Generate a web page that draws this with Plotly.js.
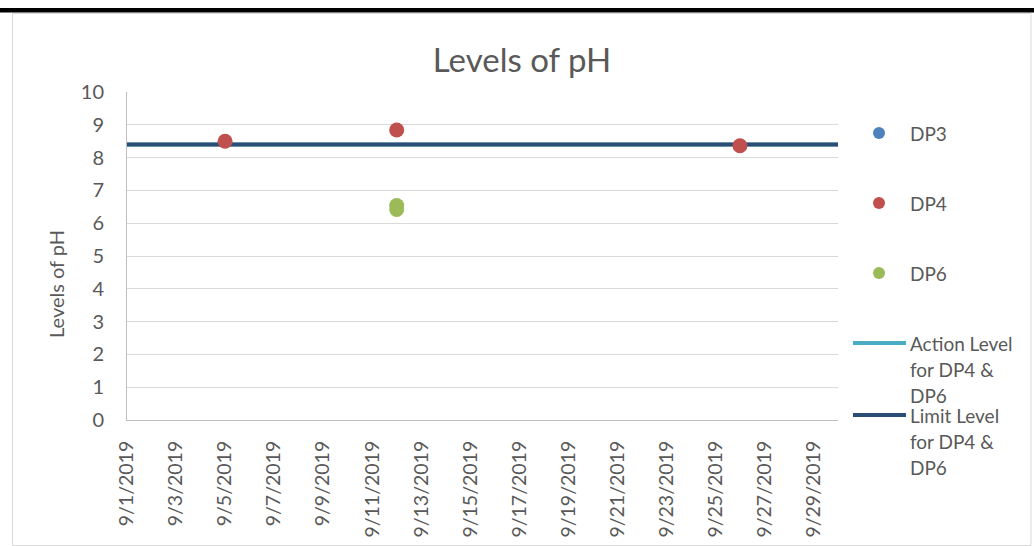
<!DOCTYPE html>
<html>
<head>
<meta charset="utf-8">
<script src="https://cdn.plot.ly/plotly-3.0.1.min.js"></script>
<style>
  html, body { margin: 0; padding: 0; background: #ffffff; }
  #chart { width: 1034px; height: 546px; }
</style>
</head>
<body>
<div id="chart"></div>
<script>
// ---- data ----
const chartTitle = 'Levels of pH';
const yAxisTitle = 'Levels of pH';
const xRange = ['2019-09-01', '2019-09-30'];
const yRange = [0, 10];
const dp3Dates = [];
const dp3Values = [];
const dp4Dates = ['2019-09-05', '2019-09-12', '2019-09-26'];
const dp4Values = [8.5, 8.84, 8.36];
const dp6Dates = ['2019-09-12', '2019-09-12'];
const dp6Values = [6.54, 6.42];
const levelDates = ['2019-09-01', '2019-09-30'];
const actionLevel = [8.4, 8.4];
const limitLevel = [8.4, 8.4];
const seriesNames = ['DP3', 'DP4', 'DP6', 'Action Level for DP4 & DP6', 'Limit Level for DP4 & DP6'];
const legendLines = [['DP3'], ['DP4'], ['DP6'], ['Action Level', 'for DP4 &', 'DP6'], ['Limit Level', 'for DP4 &', 'DP6']];

// ---- styles ----
const colors = ['#4F81BD', '#C0504D', '#9BBB59', '#4BACC6', '#2C4D75'];
const FONT = 'Lato, "Open Sans", sans-serif';
const TXT = '#595959';
const W = 1034, H = 546;
const PL = 127, PR = 838, PT = 92, PB = 420;
const px = x => (x - PL) / (PR - PL);
const py = y => (PB - y) / (PB - PT);

const traces = [
  { x: levelDates, y: actionLevel, name: seriesNames[3], type: 'scatter', mode: 'lines',
    line: { color: colors[3], width: 4 }, hoverinfo: 'skip' },
  { x: levelDates, y: limitLevel, name: seriesNames[4], type: 'scatter', mode: 'lines',
    line: { color: colors[4], width: 4 } },
  { x: dp3Dates, y: dp3Values, name: seriesNames[0], type: 'scatter', mode: 'markers',
    marker: { color: colors[0], size: 15 } },
  { x: dp4Dates, y: dp4Values, name: seriesNames[1], type: 'scatter', mode: 'markers',
    marker: { color: colors[1], size: 15 } },
  { x: dp6Dates, y: dp6Values, name: seriesNames[2], type: 'scatter', mode: 'markers',
    marker: { color: colors[2], size: 15 } }
];

// manual legend (Excel style spacing)
const legendY = [133, 203, 273, 343, 415];
const lineGap = 26;
const shapes = [
  // top black bar
  { type: 'rect', xref: 'paper', yref: 'paper', x0: px(0), x1: px(W), y0: py(12.5), y1: py(8),
    fillcolor: '#000000', line: { width: 0 }, layer: 'above' },
  // outer chart border
  { type: 'rect', xref: 'paper', yref: 'paper', x0: px(12.5), x1: px(1031), y0: py(545.5), y1: py(13.5),
    fillcolor: 'rgba(0,0,0,0)', line: { color: '#D9D9D9', width: 1 } }
];
const annotations = [
  { text: yAxisTitle, xref: 'paper', yref: 'paper', x: px(56), y: py(284), textangle: -90,
    showarrow: false, xanchor: 'center', yanchor: 'middle', font: { family: FONT, size: 20, color: TXT } }
];
legendLines.forEach((lines, i) => {
  const yc = legendY[i];
  if (i < 3) {
    shapes.push({ type: 'circle', xref: 'paper', yref: 'paper', xsizemode: 'pixel', ysizemode: 'pixel',
      xanchor: px(879), yanchor: py(yc), x0: -6, x1: 6, y0: -6, y1: 6,
      fillcolor: colors[i], line: { width: 0 } });
  } else {
    shapes.push({ type: 'line', xref: 'paper', yref: 'paper', x0: px(853), x1: px(906), y0: py(yc), y1: py(yc),
      line: { color: colors[i], width: 4 } });
  }
  lines.forEach((t, k) => {
    annotations.push({ text: t, xref: 'paper', yref: 'paper', x: px(908), y: py(yc + k * lineGap),
      showarrow: false, xanchor: 'left', yanchor: 'middle', font: { family: FONT, size: 19, color: TXT } });
  });
});

const layout = {
  width: W, height: H,
  margin: { l: PL, r: W - PR, t: PT, b: H - PB, pad: 0 },
  paper_bgcolor: '#ffffff', plot_bgcolor: '#ffffff',
  showlegend: false,
  title: { text: chartTitle, x: 522 / W, xref: 'container', xanchor: 'center',
    y: 1 - 60 / H, yref: 'container', yanchor: 'middle',
    font: { family: FONT, size: 33, color: TXT } },
  xaxis: {
    type: 'date', range: xRange, tick0: xRange[0], dtick: 2 * 86400000,
    tickformat: '%-m/%-d/%Y', tickangle: -90, showgrid: false, zeroline: false,
    showline: true, linecolor: '#BFBFBF', linewidth: 1, ticks: '',
    ticklabelstandoff: 12,
    tickfont: { family: FONT, size: 19.5, color: TXT }
  },
  yaxis: {
    range: yRange, dtick: 1, tick0: 0, showgrid: true, gridcolor: '#D9D9D9', gridwidth: 1,
    zeroline: false, showline: true, linecolor: '#BFBFBF', linewidth: 1, ticks: '',
    ticklabelstandoff: 18,
    tickfont: { family: FONT, size: 20, color: TXT }
  },
  shapes: shapes,
  annotations: annotations
};

Plotly.newPlot('chart', traces, layout, { displayModeBar: false, staticPlot: true });
</script>
</body>
</html>
